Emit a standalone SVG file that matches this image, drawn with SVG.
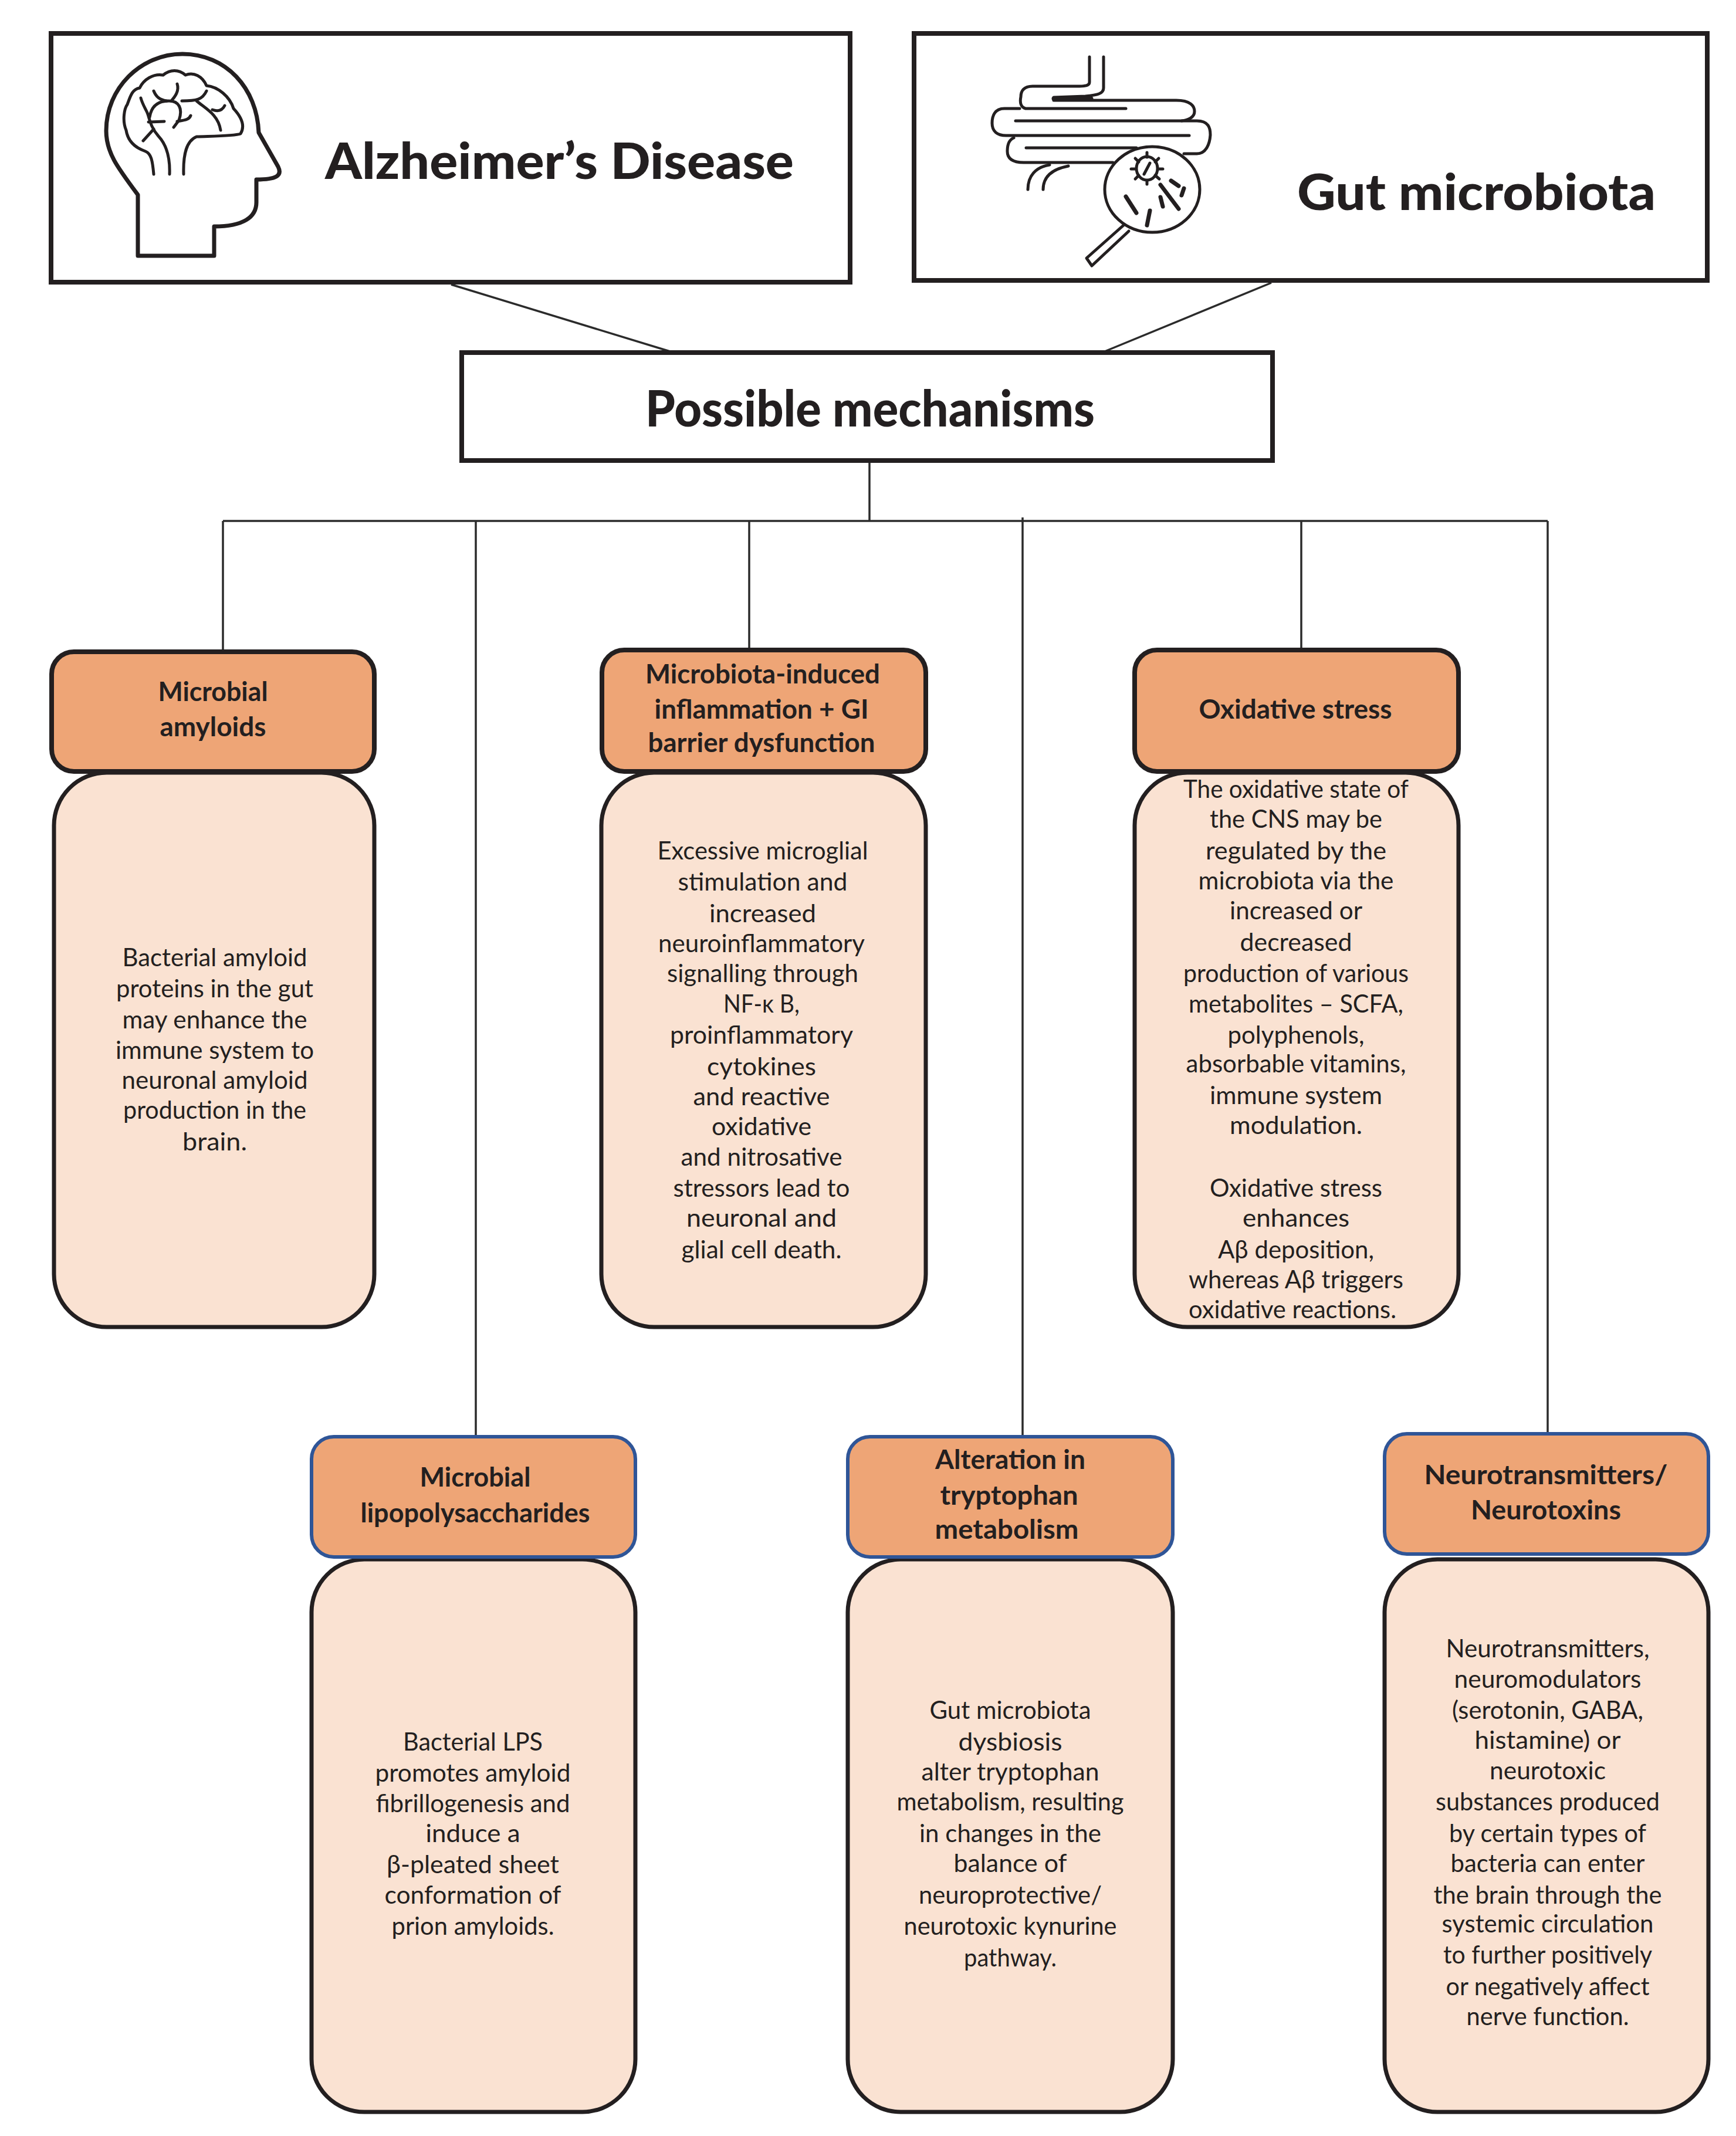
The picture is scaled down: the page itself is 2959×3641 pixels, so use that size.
<svg xmlns="http://www.w3.org/2000/svg" width="2959" height="3641" viewBox="0 0 2959 3641">
<style>
text{font-family:Lato,"Liberation Sans",sans-serif;fill:#231f20;text-anchor:middle}
.t{font-weight:900;font-size:86px;text-anchor:start}
.h{font-weight:700;font-size:46px}
.b{font-weight:400;font-size:43px}
.box{fill:#fff;stroke:#231f20;stroke-width:8}
.o{fill:#eea576;stroke:#231f20;stroke-width:8}
.ob{fill:#eea576;stroke:#2f5597;stroke-width:6}
.p{fill:#fae2d2;stroke:#231f20;stroke-width:7}
.c{fill:none;stroke:#2b2b2b;stroke-width:3.5}
.i{fill:none;stroke:#231f20;stroke-width:7;stroke-linecap:round;stroke-linejoin:round}
.j{fill:none;stroke:#231f20;stroke-width:5;stroke-linecap:round;stroke-linejoin:round}
</style>
<rect width="2959" height="3641" fill="#fff"/>
<g id="connectors">
<path class="c" d="M769 485L1142 599"/>
<path class="c" d="M2167 482L1883 599"/>
<path class="c" d="M1482 785V888"/>
<path class="c" d="M380 888H2638"/>
<path class="c" d="M380 888V1111"/>
<path class="c" d="M811 888V2449"/>
<path class="c" d="M1277 888V1110"/>
<path class="c" d="M1743 882V2449"/>
<path class="c" d="M2218 888V1110"/>
<path class="c" d="M2638 888V2444"/>
</g>
<g id="node-alzheimers">
<rect class="box" x="87" y="57" width="1362" height="424"/>
<g id="icon-head">
<path class="i" d="M235 436V332C200 285 181 260 181 223C181 150 240 92 311 92C385 92 438 150 441 226L474 284C482 300 470 306 437 306V345C437 370 415 386 365 386V436Z"/>
<path class="j" d="M262 297C260 275 258 262 248 258C225 250 217 235 215 222C208 205 212 185 217 178C222 165 225 152 238 150C245 135 262 125 278 128C290 118 305 118 316 128C330 122 345 130 352 146C372 148 392 165 398 185C412 200 418 215 410 228C400 232 360 232 335 233C318 240 312 262 313 297"/>
<path class="j" d="M289 297C290 270 285 248 270 232C255 215 255 200 250 190C245 180 242 175 240 167"/>
<path class="j" d="M244 240L262 220"/>
<path class="j" d="M253 208L280 207"/>
<path class="j" d="M255 200C258 180 270 172 288 172C305 172 312 185 305 205L296 217"/>
<path class="j" d="M302 143C306 155 298 165 292 172"/>
<path class="j" d="M262 155C266 165 272 170 284 172"/>
<path class="j" d="M352 155C345 170 335 172 310 172"/>
<path class="j" d="M335 172C350 185 372 195 376 222"/>
<path class="j" d="M383 180C378 190 370 190 362 187"/>
<path class="j" d="M325 197C322 205 312 205 302 207"/>
</g>
<text class="t" x="554" y="305" textLength="799" lengthAdjust="spacingAndGlyphs">Alzheimer’s Disease</text>
</g>
<g id="node-gut">
<rect class="box" x="1558" y="57" width="1352" height="421"/>
<g id="icon-gut">
<path class="j" d="M1857 97V140C1857 146 1850 147 1840 147H1760C1745 147 1740 155 1740 165C1738 175 1740 183 1748 185H1919"/>
<path class="j" d="M1881 97V150C1881 160 1870 162 1850 164L1796 166V171H2005C2028 171 2036 180 2036 190C2036 200 2025 205 2014 206"/>
<path class="i" d="M1796 168H1860"/>
<path class="j" d="M1738 185H1712C1695 185 1691 198 1691 210C1691 224 1700 231 1715 231H2027"/>
<path class="j" d="M1731 206H2040C2060 206 2063 218 2063 230C2062 245 2056 262 2040 262H2018"/>
<path class="j" d="M1728 235C1720 238 1717 248 1717 258C1717 270 1725 277 1745 277H1897"/>
<path class="j" d="M1749 252H1937"/>
<path class="j" d="M1789 281C1765 285 1752 300 1752 323"/>
<path class="j" d="M1821 283C1795 288 1778 300 1778 323"/>
<ellipse class="j" cx="1964" cy="323" rx="81" ry="73" fill="#fff" style="fill:#fff"/>
<path class="j" d="M1915 384L1852 440L1861 453L1924 394"/>
<ellipse class="j" cx="1955" cy="287" rx="18" ry="20"/>
<path class="j" d="M1955 260V268M1975 270L1969 276M1982 288H1974M1976 305L1969 299M1955 314V308M1935 305L1941 299M1928 288H1936M1935 270L1941 276M1950 297L1960 278"/>
<path class="i" d="M1919 335L1937 363M1960 359L1955 384M1978 336L1982 352M1978 315L2009 356M1996 308L2009 317M2018 321L2014 333"/>
</g>
<text class="t" x="2211" y="358" textLength="611" lengthAdjust="spacingAndGlyphs">Gut microbiota</text>
</g>
<g id="node-mechanisms">
<rect class="box" x="787" y="601" width="1382" height="184"/>
<text class="t" x="1100" y="727" textLength="766" lengthAdjust="spacingAndGlyphs">Possible mechanisms</text>
</g>

<g id="node-amyloids">
<rect class="p" x="92" y="1317" width="546" height="945" rx="90"/>
<rect class="o" x="88" y="1111" width="550" height="204" rx="38"/>
<text class="h" x="363" y="1195" textLength="187" lengthAdjust="spacingAndGlyphs">Microbial</text>
<text class="h" x="363" y="1255" textLength="181" lengthAdjust="spacingAndGlyphs">amyloids</text>
<g class="b">
<text class="b" x="366" y="1647" textLength="315" lengthAdjust="spacingAndGlyphs">Bacterial amyloid</text>
<text class="b" x="366" y="1700" textLength="336" lengthAdjust="spacingAndGlyphs">proteins in the gut</text>
<text class="b" x="366" y="1753" textLength="315" lengthAdjust="spacingAndGlyphs">may enhance the</text>
<text class="b" x="366" y="1805" textLength="338" lengthAdjust="spacingAndGlyphs">immune system to</text>
<text class="b" x="366" y="1856" textLength="317" lengthAdjust="spacingAndGlyphs">neuronal amyloid</text>
<text class="b" x="366" y="1907" textLength="312" lengthAdjust="spacingAndGlyphs">production in the</text>
<text class="b" x="366" y="1961" textLength="110" lengthAdjust="spacingAndGlyphs">brain.</text>
</g>
</g>

<g id="node-inflammation">
<rect class="p" x="1025" y="1317" width="553" height="945" rx="90"/>
<rect class="o" x="1026" y="1108" width="552" height="207" rx="38"/>
<text class="h" x="1300" y="1165" textLength="400" lengthAdjust="spacingAndGlyphs">Microbiota-induced</text>
<text class="h" x="1298" y="1225" textLength="365" lengthAdjust="spacingAndGlyphs">inflammation + GI</text>
<text class="h" x="1298" y="1282" textLength="387" lengthAdjust="spacingAndGlyphs">barrier dysfunction</text>
<text class="b" x="1300" y="1465" textLength="359" lengthAdjust="spacingAndGlyphs">Excessive microglial</text>
<text class="b" x="1300" y="1518" textLength="289" lengthAdjust="spacingAndGlyphs">stimulation and</text>
<text class="b" x="1300" y="1572" textLength="182" lengthAdjust="spacingAndGlyphs">increased</text>
<text class="b" x="1298" y="1623" textLength="352" lengthAdjust="spacingAndGlyphs">neuroinflammatory</text>
<text class="b" x="1300" y="1674" textLength="326" lengthAdjust="spacingAndGlyphs">signalling through</text>
<text class="b" x="1298" y="1726" textLength="130" lengthAdjust="spacingAndGlyphs">NF-κ B,</text>
<text class="b" x="1298" y="1779" textLength="312" lengthAdjust="spacingAndGlyphs">proinflammatory</text>
<text class="b" x="1298" y="1833" textLength="186" lengthAdjust="spacingAndGlyphs">cytokines</text>
<text class="b" x="1298" y="1884" textLength="233" lengthAdjust="spacingAndGlyphs">and reactive</text>
<text class="b" x="1298" y="1935" textLength="170" lengthAdjust="spacingAndGlyphs">oxidative</text>
<text class="b" x="1298" y="1987" textLength="275" lengthAdjust="spacingAndGlyphs">and nitrosative</text>
<text class="b" x="1298" y="2040" textLength="301" lengthAdjust="spacingAndGlyphs">stressors lead to</text>
<text class="b" x="1298" y="2091" textLength="256" lengthAdjust="spacingAndGlyphs">neuronal and</text>
<text class="b" x="1298" y="2145" textLength="273" lengthAdjust="spacingAndGlyphs">glial cell death.</text>
</g>

<g id="node-oxidative">
<rect class="p" x="1934" y="1317" width="552" height="945" rx="90"/>
<rect class="o" x="1934" y="1108" width="552" height="207" rx="38"/>
<text class="h" x="2208" y="1225" textLength="329" lengthAdjust="spacingAndGlyphs">Oxidative stress</text>
<text class="b" x="2209" y="1360" textLength="384" lengthAdjust="spacingAndGlyphs">The oxidative state of</text>
<text class="b" x="2209" y="1411" textLength="294" lengthAdjust="spacingAndGlyphs">the CNS may be</text>
<text class="b" x="2209" y="1465" textLength="308" lengthAdjust="spacingAndGlyphs">regulated by the</text>
<text class="b" x="2209" y="1516" textLength="333" lengthAdjust="spacingAndGlyphs">microbiota via the</text>
<text class="b" x="2209" y="1567" textLength="226" lengthAdjust="spacingAndGlyphs">increased or</text>
<text class="b" x="2209" y="1621" textLength="191" lengthAdjust="spacingAndGlyphs">decreased</text>
<text class="b" x="2209" y="1674" textLength="384" lengthAdjust="spacingAndGlyphs">production of various</text>
<text class="b" x="2209" y="1726" textLength="366" lengthAdjust="spacingAndGlyphs">metabolites – SCFA,</text>
<text class="b" x="2209" y="1779" textLength="233" lengthAdjust="spacingAndGlyphs">polyphenols,</text>
<text class="b" x="2209" y="1828" textLength="375" lengthAdjust="spacingAndGlyphs">absorbable vitamins,</text>
<text class="b" x="2209" y="1882" textLength="294" lengthAdjust="spacingAndGlyphs">immune system</text>
<text class="b" x="2209" y="1933" textLength="226" lengthAdjust="spacingAndGlyphs">modulation.</text>
<text class="b" x="2209" y="2040" textLength="294" lengthAdjust="spacingAndGlyphs">Oxidative stress</text>
<text class="b" x="2209" y="2091" textLength="182" lengthAdjust="spacingAndGlyphs">enhances</text>
<text class="b" x="2209" y="2145" textLength="266" lengthAdjust="spacingAndGlyphs">Aβ deposition,</text>
<text class="b" x="2209" y="2196" textLength="366" lengthAdjust="spacingAndGlyphs">whereas Aβ triggers</text>
<text class="b" x="2203" y="2247" textLength="354" lengthAdjust="spacingAndGlyphs">oxidative reactions.</text>
</g>

<g id="node-lps">
<rect class="p" x="531" y="2658" width="552" height="942" rx="90"/>
<rect class="ob" x="531" y="2449" width="552" height="205" rx="38"/>
<text class="h" x="810" y="2534" textLength="189" lengthAdjust="spacingAndGlyphs">Microbial</text>
<text class="h" x="810" y="2595" textLength="391" lengthAdjust="spacingAndGlyphs">lipopolysaccharides</text>
<text class="b" x="806" y="2984" textLength="238" lengthAdjust="spacingAndGlyphs">Bacterial LPS</text>
<text class="b" x="806" y="3037" textLength="333" lengthAdjust="spacingAndGlyphs">promotes amyloid</text>
<text class="b" x="806" y="3089" textLength="331" lengthAdjust="spacingAndGlyphs">fibrillogenesis and</text>
<text class="b" x="806" y="3140" textLength="161" lengthAdjust="spacingAndGlyphs">induce a</text>
<text class="b" x="806" y="3193" textLength="294" lengthAdjust="spacingAndGlyphs">β-pleated sheet</text>
<text class="b" x="806" y="3245" textLength="301" lengthAdjust="spacingAndGlyphs">conformation of</text>
<text class="b" x="806" y="3298" textLength="277" lengthAdjust="spacingAndGlyphs">prion amyloids.</text>
</g>

<g id="node-tryptophan">
<rect class="p" x="1445" y="2658" width="554" height="942" rx="90"/>
<rect class="ob" x="1445" y="2449" width="554" height="205" rx="38"/>
<text class="h" x="1722" y="2504" textLength="256" lengthAdjust="spacingAndGlyphs">Alteration in</text>
<text class="h" x="1720" y="2565" textLength="235" lengthAdjust="spacingAndGlyphs">tryptophan</text>
<text class="h" x="1716" y="2623" textLength="245" lengthAdjust="spacingAndGlyphs">metabolism</text>
<text class="b" x="1722" y="2930" textLength="275" lengthAdjust="spacingAndGlyphs">Gut microbiota</text>
<text class="b" x="1722" y="2984" textLength="177" lengthAdjust="spacingAndGlyphs">dysbiosis</text>
<text class="b" x="1722" y="3035" textLength="303" lengthAdjust="spacingAndGlyphs">alter tryptophan</text>
<text class="b" x="1722" y="3086" textLength="387" lengthAdjust="spacingAndGlyphs">metabolism, resulting</text>
<text class="b" x="1722" y="3140" textLength="310" lengthAdjust="spacingAndGlyphs">in changes in the</text>
<text class="b" x="1722" y="3191" textLength="193" lengthAdjust="spacingAndGlyphs">balance of</text>
<text class="b" x="1722" y="3245" textLength="312" lengthAdjust="spacingAndGlyphs">neuroprotective/</text>
<text class="b" x="1722" y="3298" textLength="363" lengthAdjust="spacingAndGlyphs">neurotoxic kynurine</text>
<text class="b" x="1722" y="3352" textLength="158" lengthAdjust="spacingAndGlyphs">pathway.</text>
</g>

<g id="node-neurotransmitters">
<rect class="p" x="2360" y="2658" width="552" height="942" rx="90"/>
<rect class="ob" x="2360" y="2444" width="552" height="205" rx="38"/>
<text class="h" x="2635" y="2530" textLength="415" lengthAdjust="spacingAndGlyphs">Neurotransmitters/</text>
<text class="h" x="2635" y="2590" textLength="256" lengthAdjust="spacingAndGlyphs">Neurotoxins</text>
<text class="b" x="2638" y="2825" textLength="347" lengthAdjust="spacingAndGlyphs">Neurotransmitters,</text>
<text class="b" x="2638" y="2877" textLength="319" lengthAdjust="spacingAndGlyphs">neuromodulators</text>
<text class="b" x="2638" y="2930" textLength="326" lengthAdjust="spacingAndGlyphs">(serotonin, GABA,</text>
<text class="b" x="2638" y="2981" textLength="249" lengthAdjust="spacingAndGlyphs">histamine) or</text>
<text class="b" x="2638" y="3033" textLength="198" lengthAdjust="spacingAndGlyphs">neurotoxic</text>
<text class="b" x="2638" y="3086" textLength="382" lengthAdjust="spacingAndGlyphs">substances produced</text>
<text class="b" x="2638" y="3140" textLength="336" lengthAdjust="spacingAndGlyphs">by certain types of</text>
<text class="b" x="2638" y="3191" textLength="331" lengthAdjust="spacingAndGlyphs">bacteria can enter</text>
<text class="b" x="2638" y="3245" textLength="389" lengthAdjust="spacingAndGlyphs">the brain through the</text>
<text class="b" x="2638" y="3294" textLength="361" lengthAdjust="spacingAndGlyphs">systemic circulation</text>
<text class="b" x="2638" y="3347" textLength="356" lengthAdjust="spacingAndGlyphs">to further positively</text>
<text class="b" x="2638" y="3401" textLength="347" lengthAdjust="spacingAndGlyphs">or negatively affect</text>
<text class="b" x="2638" y="3452" textLength="277" lengthAdjust="spacingAndGlyphs">nerve function.</text>
</g>
</svg>
